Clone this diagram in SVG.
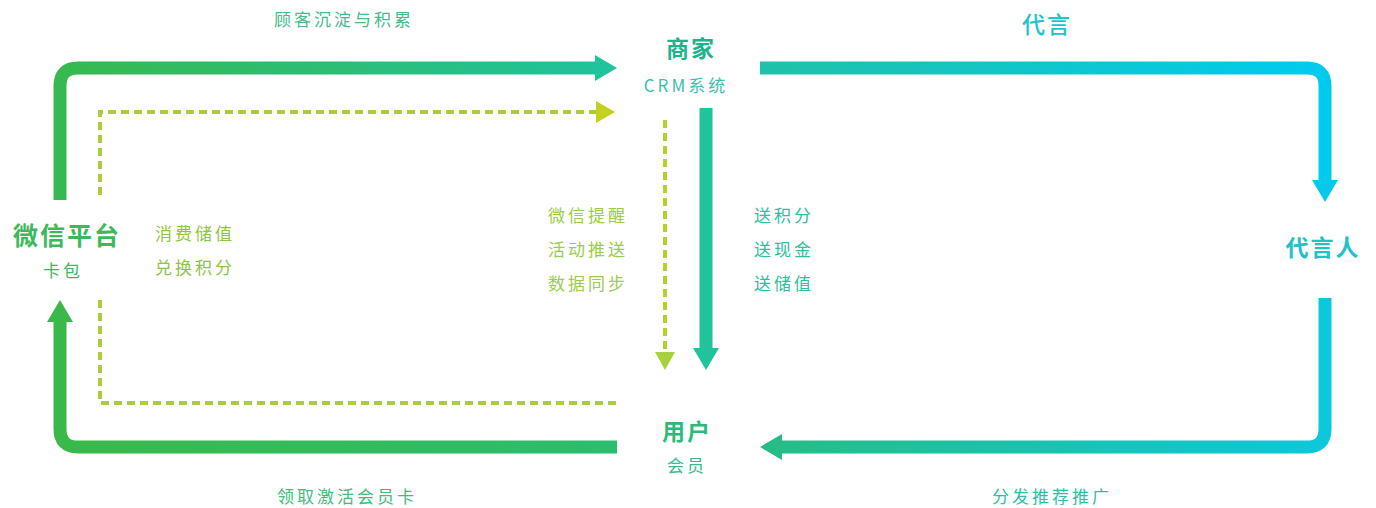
<svg xmlns="http://www.w3.org/2000/svg" width="1376" height="508" viewBox="0 0 1376 508">
<defs>
<style>
text{font-family:"Noto Sans CJK SC","Noto Sans",sans-serif;text-anchor:middle}
.t{font-size:23px;font-weight:bold;letter-spacing:2px}
.s{font-size:17px;letter-spacing:3px}
.solid{fill:none;stroke-width:13}
.dash{fill:none;stroke-width:4;stroke-dasharray:8 5}
</style>
<linearGradient id="gTop" gradientUnits="userSpaceOnUse" x1="60" y1="0" x2="617" y2="0"><stop offset="0" stop-color="#37b94f"/><stop offset="1" stop-color="#1fc39e"/></linearGradient>
<linearGradient id="gBot" gradientUnits="userSpaceOnUse" x1="60" y1="0" x2="617" y2="0"><stop offset="0" stop-color="#3ab94a"/><stop offset="1" stop-color="#2bbd6e"/></linearGradient>
<linearGradient id="gRT" gradientUnits="userSpaceOnUse" x1="760" y1="0" x2="1330" y2="0"><stop offset="0" stop-color="#1fc2a8"/><stop offset="1" stop-color="#00cbef"/></linearGradient>
<linearGradient id="gRB" gradientUnits="userSpaceOnUse" x1="760" y1="0" x2="1330" y2="0"><stop offset="0" stop-color="#25bd84"/><stop offset="1" stop-color="#0cc8dc"/></linearGradient>
</defs>
<rect width="1376" height="508" fill="#ffffff"/>
<g id="connectors">
<path class="solid" stroke="url(#gTop)" d="M60,200 V86 Q60,68 78,68 H598"/>
<polygon points="595,55 617,68 595,81" fill="#1fc39e"/>
<path class="solid" stroke="url(#gBot)" d="M617,447 H78 Q60,447 60,429 V320"/>
<polygon points="47,322 60,300 73,322" fill="#3ab94a"/>
<path class="solid" stroke="url(#gRT)" d="M760,68 H1307 Q1325,68 1325,86 V182"/>
<polygon points="1312,180 1325,202 1338,180" fill="#05c9ea"/>
<path class="solid" stroke="url(#gRB)" d="M1325,298 V429 Q1325,447 1307,447 H780"/>
<polygon points="782,434 760,447 782,460" fill="#25bd84"/>
<path class="solid" stroke="#1fc49a" d="M706,108 V350"/>
<polygon points="693,348 706,370 719,348" fill="#1fc49a"/>
<path class="dash" stroke="#a9cd3c" d="M100,195 V112 H598"/>
<polygon points="596,101 615,112 596,123" fill="#c2d21e"/>
<path class="dash" stroke="#a9cd3c" d="M100,300 V403 H620"/>
<path class="dash" stroke="#b6d22a" d="M665,120 V354"/>
<polygon points="655,352 665,370 675,352" fill="#a6d03c"/>
</g>
<g id="label-top"><text class="s" x="344" y="26" fill="#45bb8a">顾客沉淀与积累</text></g>
<g id="node-crm">
<text class="t" x="691" y="57" fill="#1fb38d">商家</text>
<text class="s" x="686" y="92" fill="#3cbfae" letter-spacing="2">CRM系统</text>
</g>
<g id="label-daiyan"><text x="1047" y="33" fill="#22c3d0" font-size="23" font-weight="500" letter-spacing="2">代言</text></g>
<g id="node-daiyanren"><text class="t" x="1323" y="256" fill="#22c0c8">代言人</text></g>
<g id="node-wechat">
<text x="67" y="245" fill="#3cb95a" font-size="25" font-weight="bold" letter-spacing="2">微信平台</text>
<text class="s" x="63" y="277" fill="#3cb95a">卡包</text>
</g>
<g id="label-consume">
<text class="s" x="195" y="240" fill="#8cc63f">消费储值</text>
<text class="s" x="195" y="274" fill="#8cc63f">兑换积分</text>
</g>
<g id="label-remind">
<text class="s" x="588" y="222" fill="#9acd4a">微信提醒</text>
<text class="s" x="588" y="256" fill="#9acd4a">活动推送</text>
<text class="s" x="588" y="290" fill="#9acd4a">数据同步</text>
</g>
<g id="label-give">
<text class="s" x="784" y="222" fill="#2cbfa0">送积分</text>
<text class="s" x="784" y="256" fill="#2cbfa0">送现金</text>
<text class="s" x="784" y="290" fill="#2cbfa0">送储值</text>
</g>
<g id="node-user">
<text class="t" x="687" y="440" fill="#2cb97a">用户</text>
<text class="s" x="687" y="472" fill="#3cbb8a">会员</text>
</g>
<g id="label-card"><text class="s" x="347" y="503" fill="#45bb7a">领取激活会员卡</text></g>
<g id="label-share"><text class="s" x="1052" y="503" fill="#2cbfa8">分发推荐推广</text></g>
</svg>
